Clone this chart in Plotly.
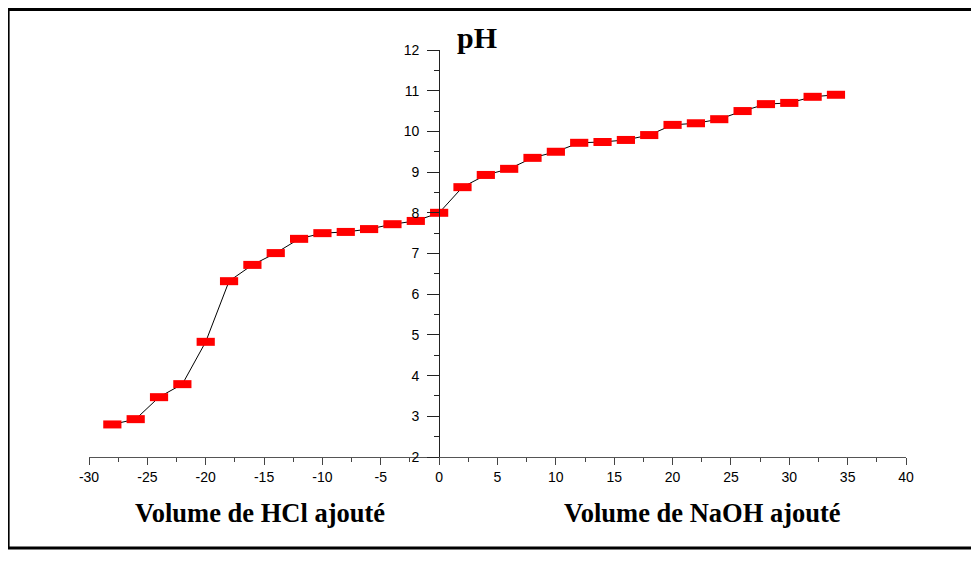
import plotly.graph_objects as go

volume = [-28, -26, -24, -22, -20, -18, -16, -14, -12, -10, -8, -6, -4, -2, 0,
          2, 4, 6, 8, 10, 12, 14, 16, 18, 20, 22, 24, 26, 28, 30, 32, 34]
ph = [2.80, 2.93, 3.47, 3.79, 4.83, 6.32, 6.72, 7.01, 7.36, 7.50, 7.53, 7.60, 7.72, 7.80, 8.00,
      8.63, 8.93, 9.08, 9.35, 9.50, 9.72, 9.74, 9.79, 9.91, 10.16, 10.20, 10.30, 10.50, 10.67, 10.70, 10.85, 10.90]

x_range = [-30, 40]
y_range = [2, 12]
x_ticks = list(range(-30, 41, 5))
x_labels = [str(v) for v in x_ticks]
y_ticks = list(range(2, 13, 1))
y_labels = [str(v) for v in y_ticks]

fig = go.Figure()
fig.add_trace(go.Scatter(
    x=volume, y=ph, mode="lines",
    line=dict(color="black", width=1),
    showlegend=False, hoverinfo="skip"))
fig.add_trace(go.Scatter(
    x=volume, y=ph, mode="markers",
    marker=dict(symbol="line-ew", size=13,
                line=dict(color="#ff0000", width=8)),
    showlegend=False))

fig.update_layout(
    width=963, height=547,
    margin=dict(l=81, r=65, t=42, b=98),
    paper_bgcolor="white", plot_bgcolor="white",
    font=dict(family="Liberation Sans, Arial", size=14, color="black"),
    xaxis=dict(
        range=x_range, tickvals=x_ticks, ticktext=x_labels,
        showgrid=False, zeroline=False,
        showline=True, linecolor="#555", linewidth=1,
        ticks="outside", ticklen=7, tickwidth=1, tickcolor="#444",
        minor=dict(dtick=2.5, ticks="outside", ticklen=4, tickcolor="#444"),
        anchor="y",
    ),
    yaxis=dict(
        range=y_range, tickvals=y_ticks, ticktext=y_labels,
        showgrid=False, zeroline=False,
        showline=True, linecolor="#222", linewidth=1,
        ticks="outside", ticklen=12, tickwidth=1, tickcolor="#222",
        ticklabelstandoff=5,
        minor=dict(dtick=0.5, ticks="outside", ticklen=5, tickcolor="#222"),
        anchor="free",
        position=(0 - x_range[0]) / (x_range[1] - x_range[0]),
    ),
    shapes=[dict(type="rect", xref="paper", yref="paper",
                 x0=-0.099, x1=1.095, y0=-0.2236, y1=1.0995,
                 line=dict(color="black", width=3))],
    annotations=[
        dict(text="<b>pH</b>", xref="paper", yref="paper", x=0.475, y=1.0295,
             xanchor="center", yanchor="middle",
             showarrow=False, font=dict(family="Liberation Serif, Times New Roman", size=30)),
        dict(text="<b>Volume de HCl ajouté</b>", xref="paper", yref="paper", x=0.209, y=-0.1376,
             xanchor="center", yanchor="middle",
             showarrow=False, font=dict(family="Liberation Serif, Times New Roman", size=26.5)),
        dict(text="<b>Volume de NaOH ajouté</b>", xref="paper", yref="paper", x=0.7515, y=-0.1376,
             xanchor="center", yanchor="middle",
             showarrow=False, font=dict(family="Liberation Serif, Times New Roman", size=26.5)),
    ],
)

fig.write_html("out.html")
